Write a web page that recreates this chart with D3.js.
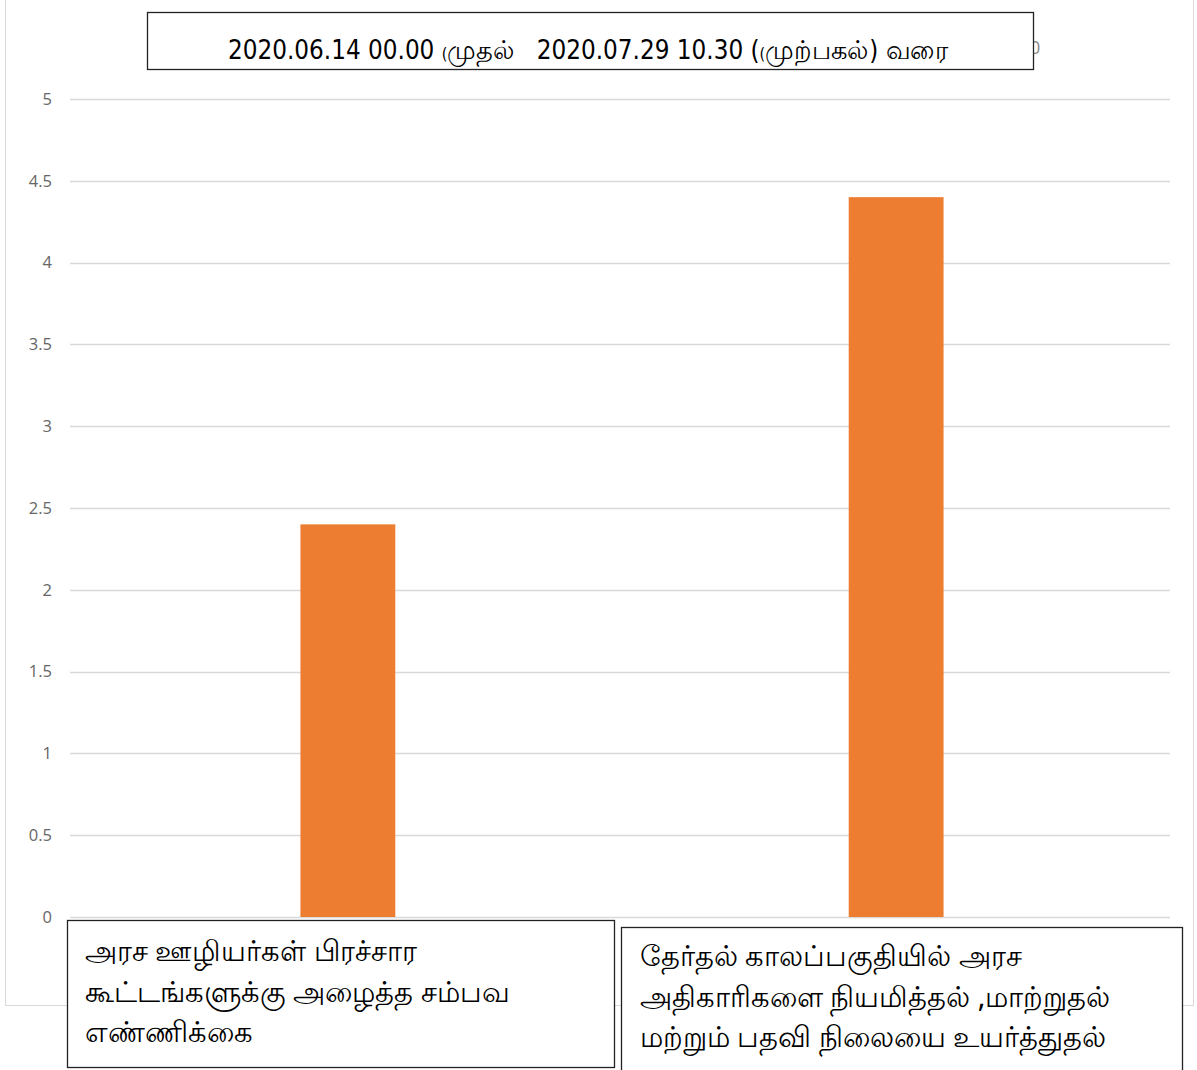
<!DOCTYPE html>
<html><head><meta charset="utf-8">
<script src="https://cdn.jsdelivr.net/npm/d3@7"></script>
<style>body{margin:0;background:#fff}</style>
</head><body>
<svg id="c" width="1197" height="1070"></svg>
<script>
const categories = [
  ["அரச ஊழியர்கள் பிரச்சார", "கூட்டங்களுக்கு அழைத்த சம்பவ", "எண்ணிக்கை"],
  ["தேர்தல் காலப்பகுதியில் அரச", "அதிகாரிகளை நியமித்தல் ,மாற்றுதல்", "மற்றும் பதவி நிலையை உயர்த்துதல்"]
];
const values = [2.4, 4.4];
const yTicks = [0, 0.5, 1, 1.5, 2, 2.5, 3, 3.5, 4, 4.5, 5];
const titleParts = ["2020.06.14 00.00 ", "(", "முதல்   2020.07.29 10.30 (", "(", "முற்பகல்) வரை"];

(function () {
const svg = d3.select("#c");
const gL = 70, gR = 1170, pT = 99, pB = 917;

// outer chart frame
svg.append("rect").attr("x", 5.5).attr("y", -2).attr("width", 1188).attr("height", 1007.5)
  .attr("fill", "#fff").attr("stroke", "#d9d9d9");

const x = d3.scaleBand().domain(d3.range(values.length)).range([74, gR]).paddingInner(0.827).paddingOuter(0.413);
const y = d3.scaleLinear().domain([0, 5]).range([pB, pT]);

// gridlines
svg.append("g").selectAll("line").data(yTicks).join("line")
  .attr("x1", gL).attr("x2", gR)
  .attr("y1", d => Math.round(y(d)) + 0.5).attr("y2", d => Math.round(y(d)) + 0.5)
  .attr("stroke", "#d9d9d9").attr("stroke-width", 1.3);

// y axis labels
const yAxis = d3.axisLeft(y).tickValues(yTicks).tickSize(0).tickPadding(0).tickFormat(d3.format("~g"));
const ga = svg.append("g").attr("transform", `translate(52,0)`).call(yAxis);
ga.select(".domain").remove();
ga.selectAll("text").attr("fill", "#666").attr("font-size", 16.5)
  .attr("font-family", "'Open Sans', 'DejaVu Sans', sans-serif");

// bars
svg.append("g").selectAll("rect").data(values).join("rect")
  .attr("x", (d, i) => x(i)).attr("width", x.bandwidth())
  .attr("y", d => y(d)).attr("height", d => y(0) - y(d))
  .attr("fill", "#ed7d31");

// stray partial glyph behind title box
svg.append("text").attr("x", 1030).attr("y", 54).attr("font-size", 18).attr("fill", "#888")
  .attr("font-family", "'Open Sans', sans-serif").text("0");

// title box
svg.append("rect").attr("x", 147.5).attr("y", 12.5).attr("width", 886).attr("height", 57)
  .attr("fill", "#fff").attr("stroke", "#222").attr("stroke-width", 1.3);
const tSizes = [26, 16, 26, 16, 26];
const tt = svg.append("text").attr("x", 228).attr("y", 59)
  .attr("xml:space", "preserve").style("white-space", "pre")
  .attr("textLength", 720).attr("lengthAdjust", "spacingAndGlyphs")
  .attr("font-family", "'Liberation Sans Narrow', 'DejaVu Sans Condensed', 'Noto Sans', sans-serif")
  .attr("fill", "#000");
titleParts.forEach((t, i) => tt.append("tspan").attr("font-size", tSizes[i]).text(t));

// category label boxes
const boxes = [{x: 67.5, y: 920.5, w: 547, h: 147, tx: 85, ty: 961},
               {x: 621.5, y: 927.5, w: 561, h: 150, tx: 640, ty: 966}];
boxes.forEach((b, i) => {
  svg.append("rect").attr("x", b.x).attr("y", b.y).attr("width", b.w).attr("height", b.h)
    .attr("fill", "#fff").attr("stroke", "#222").attr("stroke-width", 1.3);
  svg.append("g").selectAll("text").data(categories[i]).join("text")
    .attr("x", b.tx).attr("y", (d, j) => b.ty + j * 40.5)
    .attr("font-size", 28.5).attr("fill", "#000")
    .attr("font-family", "'Noto Sans', 'DejaVu Sans', sans-serif")
    .text(d => d);
});
})();
</script>
</body></html>
